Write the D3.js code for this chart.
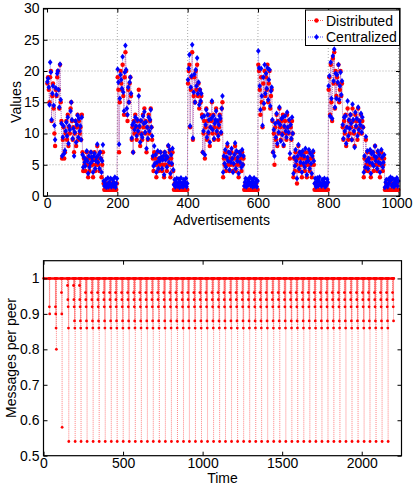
<!DOCTYPE html>
<html>
<head>
<meta charset="utf-8">
<script src="https://cdn.jsdelivr.net/npm/d3@7"></script>
<style>
  body { margin: 0; background: #fff; }
  svg { display: block; font-family: "Liberation Sans", Arial, sans-serif; }
  .axis text { font-size: 14px; fill: #000; }
  .axis path { display: none; }
  .axis line { stroke: #000; }
</style>
</head>
<body>
<div class="js-chart"></div>
<script>
// top panel: sampled every 2 advertisements (one row per phase of each 200-cycle)
var advStep = 2;
var distributed = [
  // 0-200
  18,19,17,15,19,20,12,16,18,14,10,8,17,16,19,20,17,14,21,15,
  12,6,9,11,6,7,10,12,9,13,8,11,10,14,15,12,9,11,7,10,12,8,11,13,9,12,10,11,9,13,
  7,4,6,5,4,6,7,5,3,6,4,5,7,6,5,3,6,7,4,5,6,8,5,6,4,7,6,3,5,7,
  2,1,1,2,1,1,2,1,1,1,2,1,1,2,1,1,2,1,1,2,
  // 200-400
  19,17,7,15,20,18,17,21,16,13,19,23,20,13,12,17,15,18,19,16,
  9,11,7,12,10,13,11,9,12,10,17,11,8,12,10,9,13,11,14,10,12,7,11,9,13,10,12,14,11,9,
  6,4,7,5,6,3,5,7,4,6,5,7,6,4,5,6,3,7,5,6,4,6,8,5,7,3,6,5,7,4,
  1,2,1,1,2,1,1,2,1,1,2,1,1,1,2,1,1,2,1,1,
  // 400-600
  18,20,21,11,17,19,23,9,16,19,15,20,17,21,16,18,14,17,15,16,
  13,7,10,12,6,11,14,9,12,10,13,8,11,12,15,10,13,9,11,12,14,10,12,9,11,13,12,10,14,15,
  3,6,5,7,4,6,8,5,7,4,6,5,7,6,4,5,6,8,4,7,5,6,3,7,5,6,4,7,5,6,
  1,1,2,1,1,2,1,1,2,1,1,2,1,1,2,1,1,2,1,1,
  // 600-800
  21,20,17,13,19,15,11,18,14,20,16,19,17,21,15,18,20,14,16,17,
  12,7,10,5,11,9,13,8,12,10,14,11,9,12,10,13,8,11,12,10,9,13,11,10,12,6,11,9,12,10,
  3,6,4,7,5,2,6,8,4,7,5,6,3,7,5,6,4,7,5,3,6,5,7,4,6,5,3,6,7,5,
  1,2,1,1,2,1,1,2,1,1,1,2,1,1,2,1,1,1,2,1,
  // 800-1000
  17,19,13,21,15,12,22,18,23,14,20,16,19,18,21,15,17,20,16,18,
  11,9,12,10,13,8,11,14,9,12,10,13,11,9,14,12,10,8,13,11,12,9,14,10,12,11,13,10,12,11,
  3,6,4,9,5,7,4,6,5,7,3,6,5,7,4,6,8,5,6,4,7,5,6,3,5,7,6,4,5,6,
  1,1,2,1,1,2,1,1,2,1,1,2,1,1,2,1,1,2,1,1
];
var centralized = [
  // 0-200
  18.3,18.8,17.4,14.6,21.4,19.8,12.2,16.4,17.6,14.5,11.3,9.0,17.3,16.2,19.6,20.0,17.0,14.2,21.1,15.4,
  11.6,6.4,9.4,11.2,6.8,7.3,10.4,11.8,9.6,12.6,8.4,11.2,10.6,13.6,15.0,12.2,9.2,10.8,6.4,10.2,12.0,8.6,11.4,12.9,9.4,12.4,10.4,11.2,9.0,12.6,
  6.6,4.6,6.2,5.4,4.8,5.8,7.2,5.6,3.6,6.4,4.6,5.2,7.0,6.2,5.6,3.8,6.4,6.8,4.4,5.6,6.2,8.3,5.4,6.6,4.4,7.0,6.0,3.8,5.6,8.2,
  2.4,1.6,2.0,2.6,1.4,1.8,2.9,1.5,2.2,1.7,2.8,1.5,1.9,2.6,1.6,2.1,3.0,1.4,2.0,2.8,
  // 200-400
  20.3,18.2,8.3,15.6,19.4,18.6,17.2,22.3,16.6,13.6,19.8,24.1,20.2,14.0,13.0,17.4,15.0,18.2,19.0,16.4,
  9.3,11.4,7.0,11.8,10.6,12.6,11.2,9.6,12.2,10.4,16.0,11.2,8.6,12.1,9.8,9.4,12.8,11.6,13.5,10.2,11.8,7.6,11.0,9.2,12.6,10.4,12.2,13.8,11.0,9.6,
  6.4,4.8,8.0,5.2,6.6,3.8,5.4,7.2,4.4,6.0,5.6,7.0,6.2,4.4,5.8,6.4,3.4,7.0,5.8,6.4,4.6,6.2,8.1,5.4,7.4,3.6,6.6,5.2,7.6,4.2,
  1.8,2.6,1.5,2.2,2.8,1.6,2.0,2.7,1.4,2.2,2.9,1.6,2.0,1.5,2.6,1.8,2.2,2.8,1.5,2.0,
  // 400-600
  18.6,20.4,22.6,11.2,17.4,19.2,24.2,9.3,16.6,19.5,15.0,20.2,17.6,22.1,16.4,18.2,14.6,17.0,15.2,16.4,
  12.6,7.0,10.4,12.8,6.6,11.4,13.8,9.4,13.0,10.2,12.2,8.6,11.0,12.4,15.2,10.6,12.8,9.2,11.6,12.2,13.6,10.4,12.0,9.6,11.4,12.8,12.4,10.2,14.0,16.0,
  3.8,6.4,5.2,7.4,4.6,6.2,8.4,5.6,7.0,4.2,6.8,5.4,7.6,6.0,3.8,5.2,6.6,8.5,4.4,7.2,5.6,6.2,3.6,7.0,5.4,6.6,4.6,7.4,5.0,6.4,
  1.6,2.2,2.8,1.5,2.0,2.6,1.8,2.3,3.0,1.7,2.0,2.7,1.5,2.2,2.9,1.6,2.0,2.6,1.5,2.4,
  // 600-800
  23.2,20.5,17.6,13.8,20.4,16.0,11.3,19.0,14.8,21.0,16.4,19.6,17.2,20.5,15.4,18.6,20.2,14.4,16.8,17.4,
  12.2,7.0,10.6,6.4,11.6,9.4,13.2,8.4,11.8,10.2,14.2,11.4,8.8,12.4,9.8,12.6,8.2,11.2,12.8,10.4,9.4,13.4,11.0,10.2,12.2,6.8,11.4,9.2,12.6,10.0,
  3.6,6.2,4.8,7.4,5.6,2.8,6.4,8.2,4.4,7.0,5.4,6.6,3.8,7.2,5.2,6.4,4.6,7.6,5.4,3.4,6.2,5.6,7.4,4.4,6.8,5.2,3.6,6.4,7.2,5.6,
  2.0,2.8,1.5,2.2,2.9,1.6,2.4,3.0,1.8,2.0,1.6,2.6,1.8,2.2,2.8,1.5,2.0,1.7,2.7,2.2,
  // 800-1000
  17.6,19.2,12.8,21.4,15.6,12.4,22.4,18.4,23.5,14.2,19.6,15.6,19.4,18.2,21.0,15.4,17.6,19.8,16.2,18.4,
  11.4,9.2,12.6,10.4,12.8,8.4,11.0,15.2,9.6,12.2,10.8,13.0,11.6,9.0,14.7,12.2,10.4,7.8,13.4,11.2,12.4,9.6,14.2,10.6,12.0,11.4,13.2,10.2,12.6,11.0,
  3.8,6.4,4.6,9.5,5.6,7.2,4.4,6.0,5.4,7.4,3.6,6.8,5.2,7.0,4.8,6.4,8.0,5.6,6.2,4.4,7.2,5.4,6.6,3.8,5.2,7.4,6.2,4.6,5.4,6.6,
  1.4,2.2,2.6,1.8,1.5,2.7,2.0,2.4,3.0,2.6,1.6,2.8,2.0,1.5,2.6,1.8,2.2,2.9,1.6,2.4
];
var advTicks = [0, 200, 400, 600, 800, 1000];
var valueTicks = [0, 5, 10, 15, 20, 25, 30];
var seriesNames = ['Distributed', 'Centralized'];

// bottom panel: times where the per-peer count dips, and the dip levels
var dipTimes = [36,74,112,150,188,225,263,301,339,377,415,452,490,528,566,604,642,679,
  717,755,793,831,869,906,944,982,1020,1058,1096,1133,1171,1209,1247,1285,1323,1360,
  1398,1436,1474,1512,1550,1587,1625,1663,1701,1739,1777,1814,1852,1890,1928,1966,
  2004,2041,2079,2117,2155,2193];
var dipEarly = [
  [0.92, 0.90],
  [0.92, 0.90, 0.86, 0.80],
  [0.96, 0.90, 0.58],
  [0.98, 0.94, 0.92, 0.86, 0.54],
  [0.98, 0.94, 0.92, 0.88, 0.86, 0.54],
  [0.98, 0.94, 0.92, 0.88, 0.86, 0.54]
];
var dipRegular = [0.96, 0.94, 0.92, 0.88, 0.86, 0.54];
var dipLast = [0.96, 0.94, 0.92, 0.88];
var timeTicks = [0, 500, 1000, 1500, 2000];
var msgTicks = [0.5, 0.6, 0.7, 0.8, 0.9, 1];

var W = 413, H = 486;
var svg = d3.select('.js-chart').append('svg').attr('width', W).attr('height', H);

//draw box + inward ticks on all four sides
function drawFrame(g, x, y, xt, yt, xfmt, yfmt) {
    var x0 = x.range()[0], x1 = x.range()[1], y0 = y.range()[0], y1 = y.range()[1];
    g.append('g').attr('class', 'axis js-xaxis').attr('transform', 'translate(0,' + y0 + ')')
        .call(d3.axisBottom(x).tickValues(xt).tickSize(-4).tickSizeOuter(0).tickPadding(2).tickFormat(xfmt));
    g.append('g').attr('class', 'axis').attr('transform', 'translate(0,' + y1 + ')')
        .call(d3.axisTop(x).tickValues(xt).tickSize(-4).tickSizeOuter(0).tickFormat(''));
    g.append('g').attr('class', 'axis').attr('transform', 'translate(' + x0 + ',0)')
        .call(d3.axisLeft(y).tickValues(yt).tickSize(-4).tickSizeOuter(0).tickPadding(4).tickFormat(yfmt));
    g.append('g').attr('class', 'axis').attr('transform', 'translate(' + x1 + ',0)')
        .call(d3.axisRight(y).tickValues(yt).tickSize(-4).tickSizeOuter(0).tickFormat(''));
    g.selectAll('.axis text').style('font-size', '14px');
    g.append('rect')
        .attr('x', x0).attr('y', y1)
        .attr('width', x1 - x0).attr('height', y0 - y1)
        .style('fill', 'none').style('stroke', '#000').style('stroke-width', 1.2);
}

/****
// top panel
****/
var xTop = d3.scaleLinear().domain([-10, 1004]).range([43.5, 400]);
var yTop = d3.scaleLinear().domain([0, 30]).range([196, 8.5]);
var topG = svg.append('g');

//dotted grid
topG.selectAll('.js-gx').data(advTicks.filter(function (d) { return d > 0; })).enter().append('line')
    .attr('x1', function (d) { return xTop(d); }).attr('x2', function (d) { return xTop(d); })
    .attr('y1', yTop(0)).attr('y2', yTop(30))
    .style('stroke', '#aaa').style('stroke-dasharray', '1,2');
topG.selectAll('.js-gy').data(valueTicks.slice(1, -1)).enter().append('line')
    .attr('y1', function (d) { return yTop(d); }).attr('y2', function (d) { return yTop(d); })
    .attr('x1', xTop.range()[0]).attr('x2', xTop.range()[1])
    .style('stroke', '#aaa').style('stroke-dasharray', '1,2');

function advPoints(vals) {
    return vals.map(function (v, i) { return [1 + i * advStep, v]; });
}
var lineTop = d3.line().x(function (d) { return xTop(d[0]); }).y(function (d) { return yTop(d[1]); });
var diamond = function (cx, cy) {
    return 'M' + cx + ',' + (cy - 3) + 'L' + (cx + 2.3) + ',' + cy + 'L' + cx + ',' + (cy + 3) + 'L' + (cx - 2.3) + ',' + cy + 'Z';
};

var redPts = advPoints(distributed), bluePts = advPoints(centralized);
topG.append('path').attr('d', lineTop(redPts))
    .style('fill', 'none').style('stroke', '#f00').style('stroke-width', 0.6).style('stroke-dasharray', '1,1').style('opacity', 0.6);
topG.append('path').attr('d', lineTop(bluePts))
    .style('fill', 'none').style('stroke', '#00f').style('stroke-width', 0.6).style('stroke-dasharray', '1,1').style('opacity', 0.5);
topG.selectAll('.js-red').data(redPts).enter().append('circle')
    .attr('cx', function (d) { return xTop(d[0]); }).attr('cy', function (d) { return yTop(d[1]); })
    .attr('r', 2.2).style('fill', '#f00');
topG.selectAll('.js-blue').data(bluePts).enter().append('path')
    .attr('d', function (d) { return diamond(xTop(d[0]), yTop(d[1])); })
    .style('fill', '#00f');

drawFrame(topG, xTop, yTop, advTicks, valueTicks, d3.format('d'), d3.format('d'));

//keep the last tick label inside the window
topG.selectAll('.js-xaxis .tick text').filter(function (d) { return d === 1000; }).attr('dx', -2);

topG.append('text').attr('x', (43.5 + 400) / 2).attr('y', 224.5).attr('text-anchor', 'middle')
    .style('font-size', '14px').text('Advertisements');
topG.append('text').attr('transform', 'translate(21,102) rotate(-90)').attr('text-anchor', 'middle')
    .style('font-size', '14px').text('Values');

//legend
var lg = topG.append('g');
lg.append('rect').attr('x', 305.5).attr('y', 10).attr('width', 94).attr('height', 35.5)
    .style('fill', '#fff').style('stroke', '#000').style('stroke-width', 1);
seriesNames.forEach(function (name, i) {
    var cy = 20.5 + i * 16.5;
    var color = i === 0 ? '#f00' : '#00f';
    lg.append('line').attr('x1', 308).attr('x2', 324).attr('y1', cy).attr('y2', cy)
        .style('stroke', color).style('stroke-width', 0.7).style('stroke-dasharray', '1,1');
    if (i === 0) {
        lg.append('circle').attr('cx', 316.5).attr('cy', cy).attr('r', 2.2).style('fill', color);
    } else {
        lg.append('path').attr('d', diamond(316.5, cy)).style('fill', color);
    }
    lg.append('text').attr('x', 326).attr('y', cy + 5).style('font-size', '14px').text(name);
});

/****
// bottom panel
****/
var xBot = d3.scaleLinear().domain([0, 2250]).range([43.5, 401.5]);
var yBot = d3.scaleLinear().domain([0.5, 1.05]).range([455.7, 260.7]);
var botG = svg.append('g');

//build the time series: 1 between dips, each dip level followed by a return to 1
var msgSeries = [[1, 1]];
dipTimes.forEach(function (t, c) {
    var levels = c < dipEarly.length ? dipEarly[c] : (c === dipTimes.length - 1 ? dipLast : dipRegular);
    msgSeries.push([t, 1]);
    levels.forEach(function (lv, k) {
        msgSeries.push([t + 2 * k + 1, lv]);
        msgSeries.push([t + 2 * k + 2, 1]);
    });
});

var lineBot = d3.line().x(function (d) { return xBot(d[0]); }).y(function (d) { return yBot(d[1]); });
botG.append('path').attr('d', lineBot(msgSeries))
    .style('fill', 'none').style('stroke', '#f00').style('stroke-width', 0.6)
    .style('stroke-dasharray', '1,1').style('opacity', 0.45);
botG.append('path').attr('d', lineBot(msgSeries.filter(function (d) { return d[1] === 1; })))
    .style('fill', 'none').style('stroke', '#f00').style('stroke-width', 2.5);
botG.selectAll('.js-msg').data(msgSeries).enter().append('circle')
    .attr('cx', function (d) { return xBot(d[0]); }).attr('cy', function (d) { return yBot(d[1]); })
    .attr('r', 1.4).style('fill', '#f00');

drawFrame(botG, xBot, yBot, timeTicks, msgTicks, d3.format('d'), function (d) { return d === 1 ? '1' : d3.format('.1f')(d); });

botG.append('text').attr('x', (43.5 + 401.5) / 2).attr('y', 483).attr('text-anchor', 'middle')
    .style('font-size', '14px').text('Time');
botG.append('text').attr('transform', 'translate(16,358) rotate(-90)').attr('text-anchor', 'middle')
    .style('font-size', '14px').text('Messages per peer');
</script>
</body>
</html>
